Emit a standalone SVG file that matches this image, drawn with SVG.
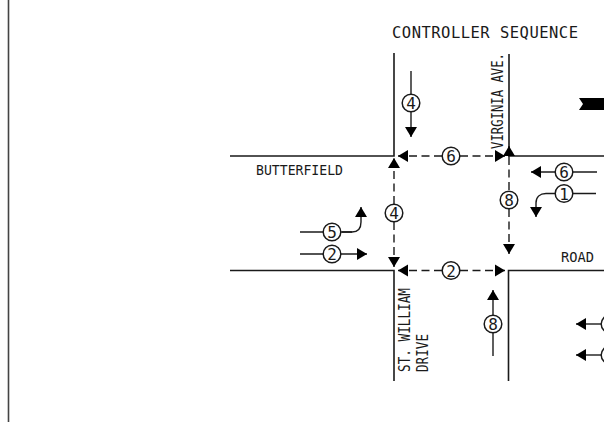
<svg xmlns="http://www.w3.org/2000/svg" width="604" height="422" viewBox="0 0 604 422">
<style>
text{font-family:"DejaVu Sans Mono","Liberation Mono",monospace;fill:#1a1a1a}
.road{fill:none;stroke:#1a1a1a;stroke-width:1.6}
.flow{fill:none;stroke:#1a1a1a;stroke-width:1.4;marker-end:url(#arrow)}
.plain{fill:none;stroke:#1a1a1a;stroke-width:1.4}
.dash{stroke-dasharray:8 4.500}
.ring{fill:#fff;stroke:#1a1a1a;stroke-width:1.5}
.num{font-size:16px;text-anchor:middle}
.lab{font-size:14px}
</style>
<defs>
<marker id="arrow" markerUnits="userSpaceOnUse" markerWidth="11" markerHeight="13" refX="10" refY="6.500" orient="auto"><path d="M0 0.500L10 6.500L0 12.500Z" fill="#000"/></marker>
</defs>
<rect width="604" height="422" fill="#fff"/>
<path id="border" d="M8.500 0V422" fill="none" stroke="#444" stroke-width="1.600"/>
<g id="roads">
<path class="road" d="M230 156H394V53"/>
<path class="road" d="M230 270.500H394V381"/>
<path class="road" d="M509 54V156H604"/>
<path class="road" d="M604 270.500H508.500V381"/>
</g>
<path id="north-mark" d="M579 98H604V110H579L583 104Z" fill="#000"/>
<g id="connectors">
<path class="flow" d="M411 71V137"/>
<path class="flow dash" d="M442 156H398"/>
<path class="flow dash" d="M460 156H505"/>
<path class="flow dash" d="M394 204V158"/>
<path class="flow dash" d="M394 222V267"/>
<path class="flow dash" d="M442 270.500H398"/>
<path class="flow dash" d="M460 270.500H505"/>
<path class="plain dash" d="M509 157V191"/>
<path class="flow dash" d="M509 209V254"/>
<path class="flow" d="M509 157V146"/>
<path class="plain" d="M300 232H352"/>
<path class="flow" d="M342 232H352C358 232 361 228 361 222V207"/>
<path class="flow" d="M300 254H367"/>
<path class="flow" d="M597 172H531"/>
<path class="plain" d="M596 193.500H555"/>
<path class="flow" d="M555 193.500H546C540 193.500 536 197 536 203V217"/>
<path class="flow" d="M493 356V290"/>
<path class="flow" d="M602 324H576"/>
<path class="flow" d="M602 355H576"/>
</g>
<g id="phase-4-north"><circle class="ring" cx="411" cy="103" r="8.800"/><text class="num" x="411" y="109">4</text></g>
<g id="phase-6-top"><circle class="ring" cx="451" cy="156" r="8.800"/><text class="num" x="451" y="162">6</text></g>
<g id="phase-4-mid"><circle class="ring" cx="394" cy="213" r="8.800"/><text class="num" x="394" y="219">4</text></g>
<g id="phase-8-mid"><circle class="ring" cx="509" cy="200" r="8.800"/><text class="num" x="509" y="206">8</text></g>
<g id="phase-5"><circle class="ring" cx="332" cy="232" r="8.800"/><text class="num" x="332" y="238">5</text></g>
<g id="phase-2-west"><circle class="ring" cx="332" cy="254" r="8.800"/><text class="num" x="332" y="260">2</text></g>
<g id="phase-2-mid"><circle class="ring" cx="451" cy="270.500" r="8.800"/><text class="num" x="451" y="276.500">2</text></g>
<g id="phase-6-east"><circle class="ring" cx="564" cy="172" r="8.800"/><text class="num" x="564" y="178">6</text></g>
<g id="phase-1"><circle class="ring" cx="564" cy="193.500" r="8.800"/><text class="num" x="564" y="199.500">1</text></g>
<g id="phase-8-south"><circle class="ring" cx="493" cy="324" r="8.800"/><text class="num" x="493" y="330">8</text></g>
<g id="phase-east-a"><circle class="ring" cx="610" cy="324" r="8.800"/></g>
<g id="phase-east-b"><circle class="ring" cx="610" cy="355" r="8.800"/></g>
<g id="labels">
<text x="392" y="38" font-size="15.500" textLength="186" lengthAdjust="spacing">CONTROLLER SEQUENCE</text>
<text class="lab" x="256" y="175" textLength="87" lengthAdjust="spacingAndGlyphs">BUTTERFIELD</text>
<text class="lab" x="561" y="262" textLength="33" lengthAdjust="spacingAndGlyphs">ROAD</text>
<text transform="translate(503 149) rotate(-90)" font-size="15" textLength="96" lengthAdjust="spacingAndGlyphs">VIRGINIA AVE.</text>
<text transform="translate(410 372) rotate(-90)" font-size="15" textLength="84" lengthAdjust="spacingAndGlyphs">ST. WILLIAM</text>
<text transform="translate(428 372) rotate(-90)" font-size="15" textLength="38" lengthAdjust="spacingAndGlyphs">DRIVE</text>
</g>
</svg>
